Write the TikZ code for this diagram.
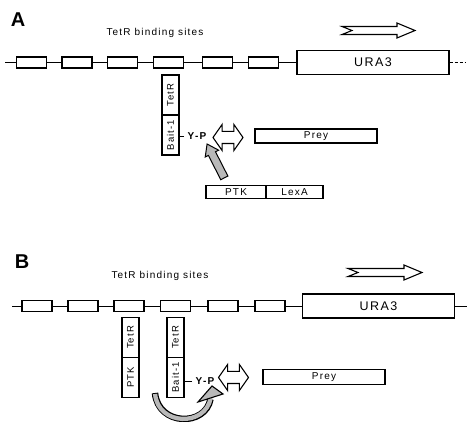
\documentclass[tikz,border=0pt]{standalone}
\usepackage{fontspec}
\setmainfont{Liberation Sans}
\newfontfamily\labelfont[LetterSpace=12]{Liberation Sans}
\usetikzlibrary{positioning, shapes.arrows}

\begin{document}
\begin{tikzpicture}[
        x=1pt, y=-1pt,
        every node/.style={font=\labelfont\fontsize{10}{12}\selectfont},
        site/.style={draw, fill=white, line width=1.1pt, minimum width=30pt, minimum height=11pt, inner sep=0pt},
        gene/.style={draw, fill=white, line width=1.1pt, minimum width=152pt, minimum height=24pt, inner sep=0pt, font=\labelfont\fontsize{12.5}{14}\selectfont},
        part/.style={draw, line width=1.1pt, minimum width=17pt, minimum height=40pt, inner sep=0pt, outer sep=0pt, font=\labelfont\fontsize{9.5}{10}\selectfont},
        bar/.style={draw, line width=1.1pt, minimum height=13pt, inner sep=0pt, outer sep=0pt},
        panel/.style={font=\fontsize{20}{22}\selectfont\bfseries},
        phos/.style={font=\labelfont\fontsize{10}{12}\selectfont\bfseries},
        hollow/.style={draw, fill=white, line width=1.1pt, line join=miter},
        bind/.style={double arrow, draw, fill=white, line width=1.1pt, minimum height=30pt, inner xsep=0pt, inner ysep=5.5pt, double arrow head extend=7pt, double arrow tip angle=110},
        kinase/.style={single arrow, draw, fill=gray!55, line width=1pt, minimum height=38pt, inner xsep=0pt, inner ysep=3.5pt, single arrow head extend=3.5pt, single arrow tip angle=70}
    ]

    \useasboundingbox (0,0) rectangle (467,422);

    % panel A
    \node[panel] (labA) at (18,20) {A};
    \node (sitesA) at (155,33) {TetR binding sites};

    \coordinate (startA) at (5,62.5);
    \coordinate (endA) at (466,62.5);
    \foreach \x [count=\i] in {31.5,77,122.5,168.5,217.5,263.5}
        \node[site] (sa\i) at (\x,62.5) {};
    \node[gene] (uraA) at (373,62.5) {URA3};

    \draw[line width=0.8pt] (startA) -- (sa1);
    \foreach \i [evaluate=\i as \j using int(\i+1)] in {1,...,5}
        \draw[line width=0.8pt] (sa\i) -- (sa\j);
    \draw[line width=0.8pt] (sa6) -- (uraA);
    \draw[line width=0.8pt, dash pattern=on 3pt off 2pt] (uraA) -- (endA);

    \node[part] (tetrA) at (170.5,95) {\rotatebox{90}{TetR}};
    \node[part, below=0pt of tetrA] (baitA) {\rotatebox{90}{Bait-1}};
    \node[phos] (ypA) at (197,136) {Y-P};
    \draw[line width=0.8pt] (ypA.west) -- (ypA.west -| baitA.east);

    \node[bind] (bindA) at (228,137.5) {};
    \node[bar, minimum width=122pt, minimum height=14pt] (preyA) at (316,136) {Prey};

    \node[bar, minimum width=60pt] (ptkA) at (236,192) {PTK};
    \node[bar, minimum width=57pt, right=0pt of ptkA] (lexA) {LexA};
    \node[kinase, rotate=117] (actA) at (217,163.5) {};

    \draw[hollow] (342,30.5) ++(0,-4) -- ++(55,0) -- ++(0,-3.5) -- ++(18,7.5)
        -- ++(-18,7.5) -- ++(0,-3.5) -- ++(-55,0) -- ++(10,-4) -- cycle;

    % panel B
    \node[panel] (labB) at (22,262) {B};
    \node (sitesB) at (160,275.5) {TetR binding sites};

    \coordinate (startB) at (12,306);
    \coordinate (endB) at (467,306);
    \foreach \x [count=\i] in {37,83,129,175.5,223,270}
        \node[site] (sb\i) at (\x,306) {};
    \node[gene] (uraB) at (378.5,306) {URA3};

    \draw[line width=0.8pt] (startB) -- (sb1);
    \foreach \i [evaluate=\i as \j using int(\i+1)] in {1,...,5}
        \draw[line width=0.8pt] (sb\i) -- (sb\j);
    \draw[line width=0.8pt] (sb6) -- (uraB);
    \draw[line width=0.8pt] (uraB) -- (endB);

    \node[part] (tetrB) at (130.5,337.5) {\rotatebox{90}{TetR}};
    \node[part, below=0pt of tetrB] (ptkB) {\rotatebox{90}{PTK}};
    \node[part] (tetrC) at (175.5,337.5) {\rotatebox{90}{TetR}};
    \node[part, below=0pt of tetrC] (baitB) {\rotatebox{90}{Bait-1}};
    \node[phos] (ypB) at (205,381) {Y-P};
    \draw[line width=0.8pt] (ypB.west) -- (ypB.west -| baitB.east);

    \node[bind] (bindB) at (233.5,377.5) {};
    \node[bar, minimum width=122pt, minimum height=15pt] (preyB) at (324,377) {Prey};

    \draw[hollow] (348,272.5) ++(0,-4) -- ++(56,0) -- ++(0,-3.5) -- ++(18,7.5)
        -- ++(-18,7.5) -- ++(0,-3.5) -- ++(-56,0) -- ++(10,-4) -- cycle;

    \coordinate (kinB) at (155,393);
    \coordinate (hitB) at (210.5,399);
    \draw[line width=6.5pt] (kinB) .. controls +(3,33) and +(-5,28) .. (hitB);
    \draw[line width=4.3pt, gray!55, shorten <=1pt, shorten >=-1pt] (kinB) .. controls +(3,33) and +(-5,28) .. (hitB);
    \draw[line width=1.1pt, fill=gray!55, line join=miter] (198,402) -- (212,386) -- (223,394) -- cycle;
\end{tikzpicture}
\end{document}
